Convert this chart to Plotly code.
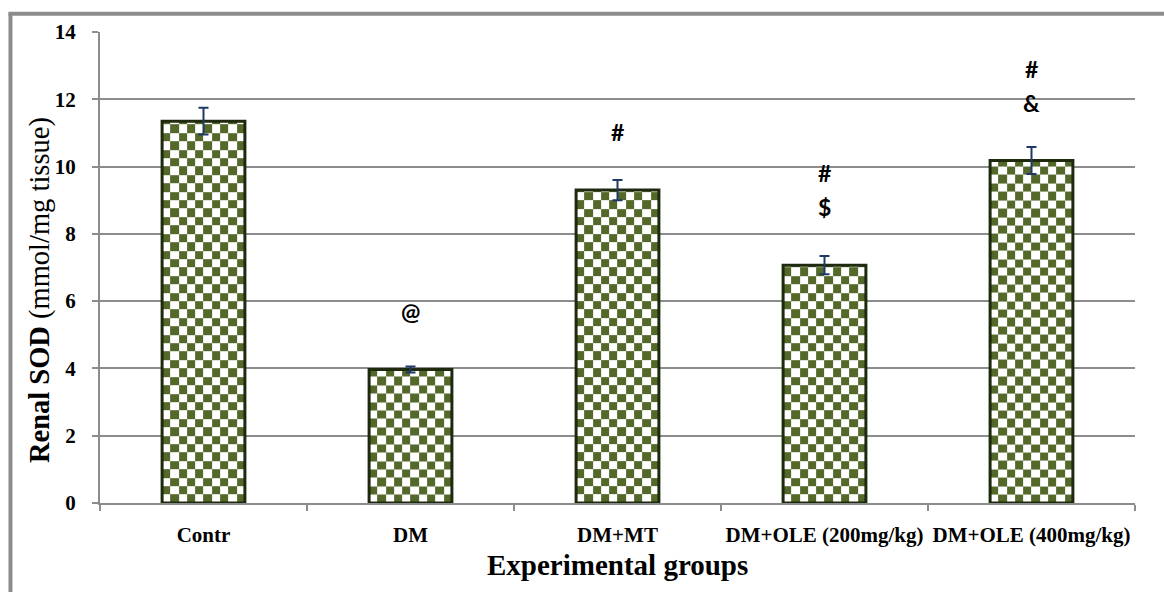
import numpy as np
import plotly.graph_objects as go

categories = ["Contr", "DM", "DM+MT", "DM+OLE (200mg/kg)", "DM+OLE (400mg/kg)"]
values = [11.35, 3.97, 9.30, 7.07, 10.18]
errors = [0.40, 0.09, 0.30, 0.27, 0.40]
y_ticks = [0, 2, 4, 6, 8, 10, 12, 14]

# significance marks: (category index, label, y position)
mark_idx = [1, 2, 3, 3, 4, 4]
mark_text = ["@", "#", "#", "$", "#", "&"]
mark_y = [5.7, 11.04, 9.8, 8.8, 12.9, 11.9]

BAR_W = 0.4
CELL_X = 0.04
CELL_Y = 0.25
GREEN = "#536829"
GRID = "#8c8c8c"

fig = go.Figure()

# checkerboard fill of each bar
for i, v in enumerate(values):
    nx = int(round(BAR_W / CELL_X))
    xe = [i - BAR_W / 2 + k * CELL_X for k in range(nx + 1)]
    ye = list(np.arange(0, v, CELL_Y))
    ye.append(v)
    ny = len(ye) - 1
    z = [[(r + c) % 2 for c in range(nx)] for r in range(ny)]
    fig.add_trace(go.Heatmap(
        x=xe, y=ye, z=z, zmin=0, zmax=1,
        colorscale=[[0, "white"], [1, GREEN]],
        showscale=False, hoverinfo="skip",
    ))

fig.add_trace(go.Bar(
    x=list(range(len(categories))), y=values, width=BAR_W,
    marker=dict(color="rgba(0,0,0,0)", line=dict(color="#1e2a0e", width=3)),
    error_y=dict(type="data", array=errors, visible=True,
                 color="#1f3864", thickness=2, width=5),
    showlegend=False,
))

for i, t, y in zip(mark_idx, mark_text, mark_y):
    fig.add_annotation(x=i, y=y, text=t, showarrow=False,
                       font=dict(family="Lato", size=23, color="black", weight="bold"))

fig.add_annotation(xref="paper", yref="paper", x=-0.058, y=0.452,
                   text="<b>Renal SOD</b> (mmol/mg tissue)", textangle=-90,
                   showarrow=False, xanchor="center", yanchor="middle",
                   font=dict(family="Liberation Serif", size=28.5, color="black"))
fig.add_annotation(xref="paper", yref="paper", x=0.5, y=-0.1316,
                   text="<b>Experimental groups</b>",
                   showarrow=False, xanchor="center", yanchor="middle",
                   font=dict(family="Liberation Serif", size=29, color="black"))

# outer frame (left and top)
fig.add_shape(type="line", xref="paper", yref="paper",
              x0=-0.0865, x1=-0.0865, y0=1.039, y1=-0.25,
              line=dict(color=GRID, width=4))
fig.add_shape(type="line", xref="paper", yref="paper",
              x0=-0.0885, x1=1.1, y0=1.039, y1=1.039,
              line=dict(color=GRID, width=4))

fig.update_layout(
    width=1164, height=592,
    margin=dict(l=100, r=29, t=32, b=89),
    plot_bgcolor="white", paper_bgcolor="white",
    showlegend=False,
    font=dict(family="Liberation Serif", color="black"),
)
fig.update_xaxes(
    range=[-0.5, len(categories) - 0.5],
    tickmode="array", tickvals=list(range(len(categories))), ticktext=categories,
    ticks="", showgrid=False, zeroline=False,
    showline=True, linecolor=GRID, linewidth=2,
    tickfont=dict(family="Liberation Serif", size=21, color="black", weight="bold"),
    ticklabelstandoff=12,
    minor=dict(tickmode="array",
               tickvals=[k - 0.5 for k in range(len(categories) + 1)],
               ticks="outside", ticklen=6, tickwidth=2, tickcolor=GRID, showgrid=False),
)
fig.update_yaxes(
    range=[0, 14], tickmode="array", tickvals=y_ticks,
    showgrid=True, gridcolor=GRID, gridwidth=2, zeroline=False,
    showline=True, linecolor=GRID, linewidth=2,
    ticks="outside", ticklen=6, tickwidth=2, tickcolor=GRID,
    tickfont=dict(family="Liberation Serif", size=21, color="black", weight="bold"),
    ticklabelstandoff=12,
)

fig.write_html("out.html", config={"displayModeBar": False},
               post_script="document.body.style.margin='0';")
